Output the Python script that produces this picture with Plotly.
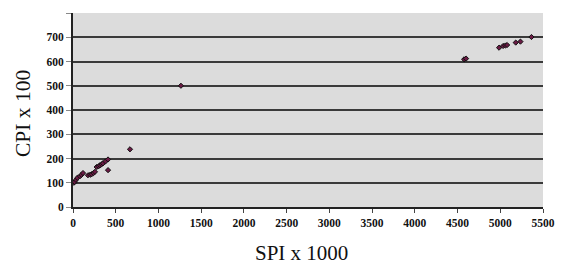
import plotly.graph_objects as go

spi = [10, 20, 35, 50, 82, 100, 117, 175, 200, 218, 240, 257, 277, 300, 316, 335, 351, 380, 410, 410, 667, 1263,
       4577, 4600, 4986, 5033, 5060, 5080, 5181, 5236, 5365]
cpi = [100, 103, 112, 120, 127, 133, 140, 131, 133, 135, 140, 145, 165, 168, 172, 176, 180, 188, 196, 152, 238, 500,
       609, 612, 657, 664, 666, 668, 678, 682, 701]

x_ticks = [0, 500, 1000, 1500, 2000, 2500, 3000, 3500, 4000, 4500, 5000, 5500]
y_ticks = [0, 100, 200, 300, 400, 500, 600, 700, 800]
y_labels = ["0", "100", "200", "300", "400", "500", "600", "700", ""]

fig = go.Figure()
fig.add_trace(go.Scatter(
    x=spi, y=cpi, mode="markers",
    marker=dict(symbol="diamond", size=4, color="#6a1a44", line=dict(color="#111111", width=1)),
    showlegend=False,
))

tickfont = dict(family="Liberation Serif", size=11.5, color="#111111")
titlefont_x = dict(family="Liberation Serif", size=21, color="#111111")
titlefont_y = dict(family="Liberation Serif", size=21.5, color="#111111")
fig.update_layout(
    width=562, height=265,
    margin=dict(l=73, r=19, t=13, b=58),
    paper_bgcolor="white", plot_bgcolor="#dcdcdc",
    xaxis=dict(range=[0, 5500], tickvals=x_ticks, ticktext=["<b>%d</b>" % v for v in x_ticks],
               showgrid=False, zeroline=False, showline=True, linecolor="#222222", linewidth=2,
               ticks="outside", ticklen=4, tickcolor="#444444", tickfont=tickfont,
               ticklabeloverflow="allow", automargin=False),
    yaxis=dict(range=[0, 800], tickvals=y_ticks, ticktext=["<b>%s</b>" % t for t in y_labels],
               showgrid=True, gridcolor="#3a3a3a", gridwidth=2, zeroline=False,
               showline=True, linecolor="#222222", linewidth=2,
               ticks="outside", ticklen=5, tickcolor="#888888", tickfont=tickfont,
               automargin=False),
    annotations=[
        dict(text="SPI x 1000", xref="paper", yref="paper", x=(301 - 73) / 470, y=(207 - 253) / 194,
             xanchor="center", yanchor="middle", showarrow=False, font=titlefont_x),
        dict(text="CPI x 100", xref="paper", yref="paper", x=(23 - 73) / 470, y=(207 - 114) / 194,
             xanchor="center", yanchor="middle", showarrow=False, textangle=-90, font=titlefont_y),
    ],
)
fig.write_html("out.html", config={"displayModeBar": False},
               post_script="document.body.style.margin='0';document.body.style.overflow='hidden';")
